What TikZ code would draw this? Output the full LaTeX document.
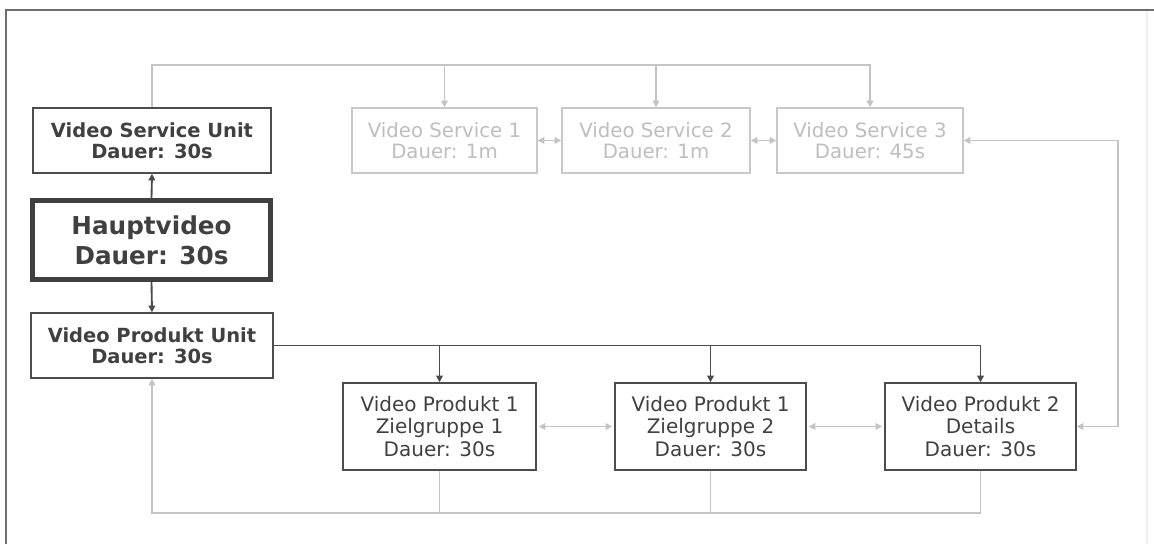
\documentclass[tikz,border=0pt]{standalone}
\usepackage{fontspec}
\setmainfont{DejaVu Sans}
\usetikzlibrary{arrows.meta}

\definecolor{ink}{HTML}{404040}
\definecolor{boxline}{HTML}{4C4C4C}
\definecolor{frameline}{HTML}{6E6E6E}
\definecolor{faint}{HTML}{C8C8C8}
\definecolor{fainttext}{HTML}{BEBEBE}
\definecolor{linkgray}{HTML}{C4C4C4}
\definecolor{edgefaint}{HTML}{F0F0F0}

\begin{document}
\begin{tikzpicture}[x=0.75pt,y=-0.75pt,
  >={Triangle[length=5pt,width=5pt]},
  unitbox/.style={draw=boxline, line width=1.1pt, fill=white, inner sep=0pt,
    align=center, text=ink, minimum height=48.75pt,
    font=\bfseries\fontsize{14.6pt}{15.9pt}\selectfont},
  mainbox/.style={draw=ink, line width=3.75pt, fill=white, inner sep=0pt,
    align=center, text=ink, minimum width=178.5pt, minimum height=59.25pt,
    font=\bfseries\fontsize{18.5pt}{22.5pt}\selectfont},
  servicebox/.style={draw=faint, line width=1.1pt, fill=white, inner sep=0pt,
    align=center, text=fainttext, minimum height=48.75pt,
    font=\fontsize{14.8pt}{15.6pt}\selectfont},
  productbox/.style={draw=boxline, line width=1.1pt, fill=white, inner sep=0pt,
    align=center, text=ink, minimum height=65.25pt,
    font=\fontsize{15pt}{16.9pt}\selectfont},
  darklink/.style={draw=boxline, line width=1.4pt},
  lightlink/.style={draw=linkgray, line width=1.3pt},
]
\useasboundingbox (0,0) rectangle (1154,544);

% outer frame
\draw[edgefaint, line width=1pt] (1147,10) -- (1147,544);
\draw[frameline, line width=1.5pt] (6,544) -- (6,10) -- (1154,10);

% left column
\node[unitbox, minimum width=178.5pt] (vsu) at (152,140.5)
  {Video Service Unit\\Dauer: 30s};
\node[mainbox] (haupt) at (151.5,240) {Hauptvideo\\Dauer: 30s};
\node[unitbox, minimum width=181.5pt] (pu) at (152,345.5)
  {Video Produkt Unit\\Dauer: 30s};

% service row
\node[servicebox, minimum width=138.75pt] (vs1) at (444.5,140.5)
  {Video Service 1\\Dauer: 1m};
\node[servicebox, minimum width=141pt] (vs2) at (656,140.5)
  {Video Service 2\\Dauer: 1m};
\node[servicebox, minimum width=139.5pt] (vs3) at (870,140.5)
  {Video Service 3\\Dauer: 45s};

% product row
\node[productbox, minimum width=144.75pt] (pv1) at (439.5,426.5)
  {Video Produkt 1\\Zielgruppe 1\\Dauer: 30s};
\node[productbox, minimum width=143.25pt] (pv2) at (710.5,426.5)
  {Video Produkt 1\\Zielgruppe 2\\Dauer: 30s};
\node[productbox, minimum width=143.25pt] (pv3) at (980.5,426.5)
  {Video Produkt 2\\Details\\Dauer: 30s};

% bus coordinates
\coordinate (topbus) at (152,65);
\coordinate (rightbus) at (1118,140);
\coordinate (bottombus) at (152,513);

% main video to the two units
\draw[darklink, ->] (haupt.north) -- (vsu.south);
\draw[darklink, ->] (haupt.south) -- (pu.north);

% product unit to the product videos
\draw[darklink, ->] (pu.east) -| (pv3.north);
\draw[darklink, ->] (pu.east -| pv1.north) -- (pv1.north);
\draw[darklink, ->] (pu.east -| pv2.north) -- (pv2.north);

% service unit to the service videos
\draw[lightlink, ->] (vsu.north) -- (topbus) -| (vs3.north);
\draw[lightlink, ->] (topbus -| vs1.north) -- (vs1.north);
\draw[lightlink, ->] (topbus -| vs2.north) -- (vs2.north);

% neighbours
\draw[lightlink, <->] (vs1.east) -- (vs2.west);
\draw[lightlink, <->] (vs2.east) -- (vs3.west);
\draw[lightlink, <->] ([xshift=1.5pt]pv1.east) -- ([xshift=-1.5pt]pv2.west);
\draw[lightlink, <->] ([xshift=1.5pt]pv2.east) -- ([xshift=-1.5pt]pv3.west);

% service 3 and product details
\draw[lightlink, <->] (vs3.east) -- (vs3.east -| rightbus) |- (pv3.east);

% return path to the product unit
\draw[lightlink, ->] (pv3.south) |- (pu.south |- bottombus) -- (pu.south);
\draw[lightlink] (pv1.south) -- (pv1.south |- bottombus);
\draw[lightlink] (pv2.south) -- (pv2.south |- bottombus);
\end{tikzpicture}
\end{document}
